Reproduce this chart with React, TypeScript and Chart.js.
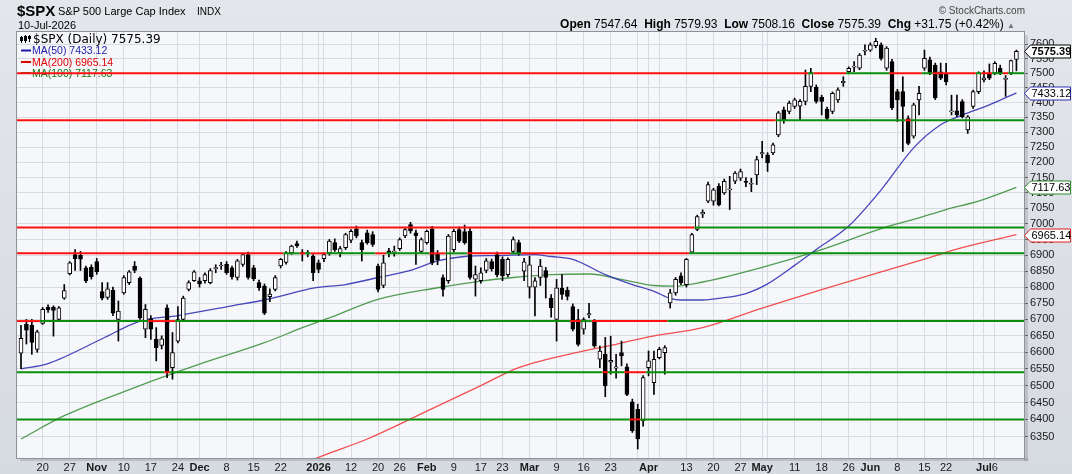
import React, { useEffect, useRef } from "react";
import { Chart, registerables } from "chart.js";

Chart.register(...registerables);

// ---- trading days (categories) ----
const octDays = [14, 15, 16, 17, 20, 21, 22, 23, 24, 27, 28, 29, 30, 31];
const novDays = [3, 4, 5, 6, 7, 10, 11, 12, 13, 14, 17, 18, 19, 20, 21, 24, 25, 26, 28];
const decDays = [1, 2, 3, 4, 5, 8, 9, 10, 11, 12, 15, 16, 17, 18, 19, 22, 23, 24, 26, 29, 30, 31];
const janDays = [2, 5, 6, 7, 8, 9, 12, 13, 14, 15, 16, 20, 21, 22, 23, 26, 27, 28, 29, 30];
const febDays = [2, 3, 4, 5, 6, 9, 10, 11, 12, 13, 17, 18, 19, 20, 23, 24, 25, 26, 27];
const marDays = [2, 3, 4, 5, 6, 9, 10, 11, 12, 13, 16, 17, 18, 19, 20, 23, 24, 25, 26, 27, 30, 31];
const aprDays = [1, 2, 6, 7, 8, 9, 10, 13, 14, 15, 16, 17, 20, 21, 22, 23, 24, 27, 28, 29, 30];
const mayDays = [1, 4, 5, 6, 7, 8, 11, 12, 13, 14, 15, 18, 19, 20, 21, 22, 26, 27, 28, 29];
const junDays = [1, 2, 3, 4, 5, 8, 9, 10, 11, 12, 15, 16, 17, 18, 22, 23, 24, 25, 26, 29, 30];
const julDays = [1, 2, 6, 7, 8, 9, 10];

const pad = (n: number) => (n < 10 ? "0" + n : "" + n);
const dates: string[] = [
  ...octDays.map((d) => `2025-10-${pad(d)}`),
  ...novDays.map((d) => `2025-11-${pad(d)}`),
  ...decDays.map((d) => `2025-12-${pad(d)}`),
  ...janDays.map((d) => `2026-01-${pad(d)}`),
  ...febDays.map((d) => `2026-02-${pad(d)}`),
  ...marDays.map((d) => `2026-03-${pad(d)}`),
  ...aprDays.map((d) => `2026-04-${pad(d)}`),
  ...mayDays.map((d) => `2026-05-${pad(d)}`),
  ...junDays.map((d) => `2026-06-${pad(d)}`),
  ...julDays.map((d) => `2026-07-${pad(d)}`),
];

// ---- OHLC ----
const opens = [
  6597, 6685, 6682, 6609, 6688, 6738, 6738, 6700, 6766, 6842, 6902, 6900, 6860, 6862, 6880, 6786, 6768, 6790, 6700, 6782,
  6814, 6866, 6828, 6670, 6702, 6639, 6621, 6736, 6554, 6634, 6700, 6793, 6820, 6820, 6820, 6814, 6858, 6866, 6871, 6860,
  6830, 6871, 6902, 6860, 6814, 6803, 6770, 6793, 6866, 6877, 6907, 6937, 6908, 6905, 6897, 6876, 6889, 6907, 6940, 6907,
  6924, 6948, 6984, 6940, 6971, 6966, 6866, 6805, 6914, 6910, 6921, 6961, 6998, 6971, 6912, 6940, 6984, 6905, 6830, 6820,
  6918, 6982, 6975, 6976, 6825, 6820, 6852, 6880, 6902, 6887, 6839, 6912, 6940, 6850, 6800, 6800, 6830, 6852, 6766, 6700,
  6797, 6790, 6740, 6700, 6670, 6714, 6695, 6579, 6594, 6570, 6552, 6599, 6556, 6452, 6430, 6396, 6554, 6509, 6584, 6599,
  6751, 6782, 6835, 6808, 6910, 6982, 7032, 7073, 7073, 7121, 7100, 7110, 7138, 7148, 7138, 7128, 7159, 7228, 7225, 7231,
  7291, 7375, 7370, 7387, 7388, 7404, 7455, 7452, 7418, 7378, 7370, 7409, 7468, 7505, 7521, 7517, 7576, 7580, 7595, 7598,
  7517, 7540, 7437, 7437, 7346, 7287, 7409, 7517, 7546, 7528, 7505, 7500, 7368, 7372, 7403, 7308, 7387, 7437, 7477, 7500,
  7500, 7517, 7479, 7500, 7547.64,
];
const highs = [
  6682, 6700, 6700, 6667, 6737, 6745, 6742, 6740, 6808, 6880, 6918, 6912, 6866, 6870, 6890, 6814, 6814, 6800, 6757, 6836,
  6852, 6880, 6832, 6746, 6712, 6675, 6650, 6745, 6660, 6740, 6772, 6820, 6852, 6830, 6845, 6858, 6870, 6878, 6880, 6866,
  6887, 6906, 6910, 6868, 6822, 6810, 6795, 6836, 6890, 6912, 6932, 6945, 6918, 6915, 6902, 6885, 6908, 6950, 6952, 6928,
  6970, 6982, 6993, 6948, 6980, 6975, 6872, 6900, 6922, 6929, 6955, 6985, 7005, 6980, 6955, 6980, 6992, 6915, 6838, 6966,
  6982, 6990, 6996, 6985, 6866, 6860, 6890, 6888, 6910, 6895, 6892, 6958, 6948, 6890, 6897, 6830, 6887, 6862, 6777, 6824,
  6839, 6800, 6748, 6731, 6705, 6750, 6700, 6619, 6645, 6649, 6594, 6634, 6565, 6460, 6445, 6530, 6604, 6604, 6615, 6620,
  6793, 6830, 6845, 6890, 6970, 7028, 7045, 7135, 7115, 7130, 7145, 7154, 7170, 7178, 7150, 7148, 7220, 7270, 7232, 7264,
  7370, 7385, 7405, 7415, 7410, 7511, 7517, 7460, 7425, 7385, 7436, 7450, 7488, 7522, 7540, 7568, 7598, 7605, 7621, 7605,
  7592, 7548, 7445, 7488, 7355, 7398, 7455, 7580, 7556, 7535, 7535, 7534, 7425, 7425, 7410, 7356, 7442, 7505, 7508, 7532,
  7540, 7528, 7492, 7545, 7579.93,
];
const lows = [
  6551, 6625, 6594, 6600, 6685, 6722, 6649, 6698, 6762, 6838, 6852, 6852, 6814, 6825, 6840, 6760, 6762, 6712, 6634, 6778,
  6808, 6845, 6700, 6644, 6639, 6574, 6610, 6524, 6519, 6628, 6695, 6788, 6818, 6800, 6812, 6810, 6845, 6855, 6840, 6825,
  6822, 6865, 6825, 6820, 6790, 6715, 6755, 6788, 6860, 6872, 6903, 6925, 6882, 6895, 6820, 6845, 6880, 6900, 6912, 6895,
  6918, 6940, 6955, 6882, 6935, 6928, 6785, 6798, 6895, 6897, 6915, 6956, 6970, 6871, 6905, 6935, 6870, 6870, 6772, 6812,
  6910, 6940, 6935, 6825, 6772, 6812, 6845, 6850, 6832, 6820, 6832, 6905, 6900, 6820, 6766, 6711, 6805, 6766, 6707, 6634,
  6762, 6760, 6665, 6619, 6655, 6705, 6615, 6554, 6467, 6534, 6522, 6559, 6470, 6362, 6314, 6380, 6529, 6474, 6580, 6534,
  6735, 6775, 6808, 6800, 6905, 6978, 7020, 7068, 7060, 7058, 7095, 7046, 7130, 7140, 7120, 7104, 7127, 7215, 7170, 7225,
  7285, 7330, 7362, 7380, 7342, 7392, 7437, 7398, 7358, 7340, 7362, 7400, 7455, 7498, 7505, 7512, 7563, 7575, 7588, 7545,
  7510, 7376, 7336, 7236, 7258, 7280, 7358, 7510, 7495, 7410, 7478, 7460, 7358, 7352, 7348, 7296, 7380, 7430, 7470, 7478,
  7495, 7495, 7421, 7495, 7508.16,
];
const closes = [
  6642, 6667, 6630, 6662, 6731, 6730, 6728, 6736, 6789, 6876, 6889, 6888, 6819, 6833, 6848, 6766, 6795, 6719, 6726, 6830,
  6848, 6852, 6705, 6731, 6670, 6614, 6641, 6538, 6599, 6700, 6766, 6814, 6848, 6810, 6839, 6852, 6861, 6869, 6845, 6833,
  6882, 6902, 6830, 6826, 6798, 6719, 6778, 6830, 6887, 6908, 6929, 6930, 6905, 6908, 6845, 6855, 6902, 6945, 6918, 6921,
  6966, 6976, 6961, 6918, 6940, 6934, 6793, 6876, 6907, 6913, 6950, 6982, 6977, 6962, 6950, 6976, 6876, 6885, 6793, 6961,
  6976, 6945, 6940, 6830, 6839, 6845, 6882, 6858, 6839, 6835, 6887, 6950, 6908, 6879, 6870, 6820, 6866, 6830, 6736, 6798,
  6777, 6771, 6670, 6624, 6700, 6718, 6619, 6604, 6499, 6576, 6556, 6589, 6474, 6367, 6343, 6524, 6574, 6579, 6609, 6614,
  6782, 6824, 6814, 6887, 6966, 7023, 7037, 7127, 7110, 7062, 7138, 7113, 7165, 7170, 7134, 7131, 7209, 7232, 7198, 7258,
  7365, 7340, 7398, 7409, 7404, 7455, 7502, 7404, 7404, 7346, 7431, 7443, 7472, 7517, 7524, 7563, 7579, 7598, 7610, 7551,
  7587, 7382, 7409, 7387, 7263, 7392, 7431, 7551, 7500, 7416, 7483, 7471, 7372, 7358, 7352, 7352, 7437, 7500, 7484, 7483,
  7534, 7500, 7482, 7543.64, 7575.39,
];

// ---- moving averages ----
const ma50Dates = [
  "2025-10-14", "2025-10-21", "2025-11-04", "2025-11-13", "2025-11-24", "2025-12-09", "2025-12-17", "2025-12-22",
  "2025-12-31", "2026-01-09", "2026-01-20", "2026-01-28", "2026-02-04", "2026-02-11", "2026-02-20", "2026-03-03",
  "2026-03-06", "2026-03-12", "2026-03-20", "2026-03-27", "2026-04-02", "2026-04-08", "2026-04-10", "2026-04-16",
  "2026-04-21", "2026-04-28", "2026-05-04", "2026-05-11", "2026-05-15", "2026-05-26", "2026-06-03", "2026-06-11",
  "2026-06-18", "2026-06-25", "2026-07-02", "2026-07-10",
];
const ma50Values = [
  6550, 6566, 6641, 6695, 6712, 6742, 6760, 6772, 6797, 6808, 6830, 6852, 6882, 6896, 6899, 6902, 6896, 6887, 6839,
  6808, 6787, 6765, 6760, 6760, 6765, 6780, 6810, 6868, 6918, 6993, 7110, 7248, 7325, 7358, 7392, 7433.12,
];
const ma100Dates = [
  "2025-10-14", "2025-10-24", "2025-11-12", "2025-12-01", "2025-12-17", "2025-12-29", "2026-01-06", "2026-01-20",
  "2026-02-04", "2026-02-17", "2026-02-25", "2026-03-06", "2026-03-17", "2026-03-25", "2026-04-02", "2026-04-09",
  "2026-04-16", "2026-05-01", "2026-05-18", "2026-06-03", "2026-06-11", "2026-06-22", "2026-06-30", "2026-07-10",
];
const ma100Values = [
  6343, 6411, 6494, 6564, 6629, 6675, 6705, 6762, 6798, 6819, 6830, 6839, 6841, 6824, 6805, 6803, 6816, 6862, 6918,
  6985, 7014, 7046, 7073, 7117.63,
];
const ma200Dates = [
  "2025-12-24", "2026-01-02", "2026-01-15", "2026-02-03", "2026-02-17", "2026-02-26", "2026-03-16", "2026-03-24",
  "2026-04-01", "2026-04-16", "2026-05-01", "2026-05-18", "2026-06-03", "2026-06-15", "2026-06-25", "2026-07-10",
];
const ma200Values = [
  6255, 6290, 6343, 6432, 6500, 6554, 6604, 6624, 6647, 6675, 6735, 6792, 6848, 6888, 6924, 6965.14,
];

// ---- horizontal support / resistance levels ----
const levels = [7500, 7340, 6988, 6906, 6695, 6540, 6400];

// ---- axis ticks ----
const yTickValues = [
  6350, 6400, 6450, 6500, 6550, 6600, 6650, 6700, 6750, 6800, 6850, 6900, 6950, 7000, 7050, 7100, 7150, 7200, 7250,
  7300, 7350, 7400, 7450, 7500, 7550, 7600,
];
const xLabelDates = [
  "2025-10-20", "2025-10-27", "2025-11-03", "2025-11-10", "2025-11-17", "2025-11-24", "2025-12-01", "2025-12-08",
  "2025-12-15", "2025-12-22", "2026-01-02", "2026-01-12", "2026-01-20", "2026-01-26", "2026-02-02", "2026-02-09",
  "2026-02-17", "2026-02-23", "2026-03-02", "2026-03-09", "2026-03-16", "2026-03-23", "2026-04-01", "2026-04-13",
  "2026-04-20", "2026-04-27", "2026-05-01", "2026-05-11", "2026-05-18", "2026-05-26", "2026-06-01", "2026-06-08",
  "2026-06-15", "2026-06-22", "2026-07-01", "2026-07-06",
];
const xLabels = [
  "20", "27", "Nov", "10", "17", "24", "Dec", "8", "15", "22", "2026", "12", "20", "26", "Feb", "9", "17", "23", "Mar",
  "9", "16", "23", "Apr", "13", "20", "27", "May", "11", "18", "26", "Jun", "8", "15", "22", "Jul", "6",
];
const xBoldLabels = ["Nov", "Dec", "2026", "Feb", "Mar", "Apr", "May", "Jun", "Jul"];
const xGridOnlyDates = ["2025-12-29", "2026-01-05", "2026-03-30", "2026-04-06", "2026-05-04", "2026-06-29"];

const RED = "#ff1010";
const GREEN = "#0a8f0a";
const FONT = "'Liberation Sans', Arial, sans-serif";

export default function App() {
  const ref = useRef<HTMLCanvasElement>(null);

  useEffect(() => {
    const canvas = ref.current;
    if (!canvas) return;
    const n = dates.length;
    const idx = (d: string) => dates.indexOf(d);
    const last = n - 1;

    const wickData = dates.map((_, i) => ({ x: i, y: [lows[i], highs[i]] }));
    const bodyData = dates.map((_, i) => ({
      x: i,
      y: [Math.min(opens[i], closes[i]), Math.max(opens[i], closes[i])],
    }));
    const bodyFill = dates.map((_, i) => (closes[i] >= opens[i] ? "#ffffff" : "#000000"));
    const maPts = (ds: string[], vs: number[]) => ds.map((d, k) => ({ x: idx(d), y: vs[k] }));

    const levelXs: number[] = [-1];
    for (let i = 0; i < n - 1; i++) levelXs.push(i + 0.5);
    levelXs.push(n + 1);

    const labelMap = new Map<number, string>();
    xLabelDates.forEach((d, k) => labelMap.set(idx(d), xLabels[k]));
    const gridIdx = Array.from(new Set([...xLabelDates, ...xGridOnlyDates].map(idx))).sort((a, b) => a - b);

    const levelSets = levels.map((L) => ({
      type: "line" as const,
      data: levelXs.map((x) => ({ x, y: L })),
      borderWidth: 2,
      pointRadius: 0,
      borderColor: RED,
      segment: {
        borderColor: (c: any) => (closes[Math.min(c.p0DataIndex, last)] >= L ? GREEN : RED),
      },
      order: 1,
    }));

    const bgPlugin = {
      id: "bgPlugin",
      beforeDraw(chart: any) {
        const { ctx, chartArea: a } = chart;
        ctx.save();
        const g = ctx.createLinearGradient(0, 0, 0, chart.height);
        g.addColorStop(0, "#e3e6eb");
        g.addColorStop(1, "#d6dae1");
        ctx.fillStyle = g;
        ctx.fillRect(0, 0, chart.width, chart.height);
        ctx.fillStyle = "rgba(0,0,0,0.12)";
        ctx.fillRect(a.right, a.top + 3, 4, a.bottom - a.top);
        ctx.fillRect(a.left + 3, a.bottom, a.right - a.left + 1, 3);
        ctx.fillStyle = "#f6f7fb";
        ctx.fillRect(a.left, a.top, a.right - a.left, a.bottom - a.top);
        ctx.restore();
      },
      beforeDatasetsDraw(chart: any) {
        const { ctx } = chart;
        ctx.save();
        // candle icon
        ctx.fillStyle = "#000";
        ctx.fillRect(21, 36, 1, 7);
        ctx.fillRect(20, 37, 3, 4);
        ctx.fillRect(25, 35, 1, 8);
        ctx.strokeStyle = "#000";
        ctx.lineWidth = 1;
        ctx.strokeRect(24.5, 36.5, 2, 4);
        ctx.fillRect(29, 35, 1, 7);
        ctx.fillRect(28, 36, 3, 3);
        ctx.textBaseline = "alphabetic";
        ctx.font = "12px 'DejaVu Sans', sans-serif";
        ctx.fillStyle = "#000";
        ctx.fillText("$SPX (Daily) 7575.39", 33, 43);
        ctx.font = "10.5px " + FONT;
        const rows = [
          { t: "MA(50) 7433.12", c: "#1c1ca8", y: 54, dy: 50.5 },
          { t: "MA(200) 6965.14", c: "#e00000", y: 65.5, dy: 62 },
          { t: "MA(100) 7117.63", c: "#117a11", y: 76.5, dy: 73 },
        ];
        rows.forEach((r) => {
          ctx.fillStyle = r.c;
          ctx.fillRect(21, r.dy - 1, 10, 2);
          ctx.fillText(r.t, 32, r.y);
        });
        ctx.restore();
      },
      afterDraw(chart: any) {
        const { ctx, chartArea: a } = chart;
        const ys = chart.scales.y;
        ctx.save();
        ctx.strokeStyle = "#8d929b";
        ctx.lineWidth = 1;
        ctx.strokeRect(a.left - 0.5, a.top - 0.5, a.right - a.left + 1, a.bottom - a.top + 1);
        const tags = [
          { v: ma200Values[ma200Values.length - 1], c: "#e02020", b: false },
          { v: ma100Values[ma100Values.length - 1], c: "#2a8a2a", b: false },
          { v: ma50Values[ma50Values.length - 1], c: "#3030b0", b: false },
          { v: closes[last], c: "#000000", b: true },
        ];
        tags.forEach((t) => {
          const y = Math.round(ys.getPixelForValue(t.v)) + 0.5;
          const x0 = a.right + 0.5;
          ctx.beginPath();
          ctx.moveTo(x0, y);
          ctx.lineTo(x0 + 6, y - 6.5);
          ctx.lineTo(1070.5, y - 6.5);
          ctx.lineTo(1070.5, y + 6.5);
          ctx.lineTo(x0 + 6, y + 6.5);
          ctx.closePath();
          ctx.fillStyle = "#ffffff";
          ctx.fill();
          ctx.strokeStyle = t.c;
          ctx.lineWidth = 1;
          ctx.stroke();
          ctx.fillStyle = "#000";
          ctx.font = (t.b ? "bold " : "") + "11px " + FONT;
          ctx.textBaseline = "middle";
          ctx.textAlign = "left";
          ctx.fillText(t.v.toFixed(2), x0 + 7, y + 0.5);
        });
        ctx.restore();
      },
    };

    const chart = new Chart(canvas, {
      type: "bar",
      data: {
        datasets: [
          {
            type: "line",
            data: maPts(ma50Dates, ma50Values),
            borderColor: "rgba(40,40,175,0.85)",
            borderWidth: 1.3,
            pointRadius: 0,
            cubicInterpolationMode: "monotone",
            order: 5,
          } as any,
          {
            type: "line",
            data: maPts(ma100Dates, ma100Values),
            borderColor: "rgba(40,135,40,0.8)",
            borderWidth: 1.3,
            pointRadius: 0,
            cubicInterpolationMode: "monotone",
            order: 5,
          } as any,
          {
            type: "line",
            data: maPts(ma200Dates, ma200Values),
            borderColor: "rgba(240,50,50,0.85)",
            borderWidth: 1.3,
            pointRadius: 0,
            cubicInterpolationMode: "monotone",
            order: 5,
          } as any,
          {
            type: "bar",
            data: wickData,
            backgroundColor: "#000",
            barThickness: 1,
            grouped: false,
            order: 4,
          } as any,
          {
            type: "bar",
            data: bodyData,
            backgroundColor: bodyFill,
            borderColor: "#000",
            borderWidth: 1,
            borderSkipped: false,
            barThickness: 4,
            minBarLength: 1,
            grouped: false,
            order: 3,
          } as any,
          ...(levelSets as any[]),
        ],
      },
      options: {
        responsive: false,
        animation: false,
        devicePixelRatio: 1,
        events: [],
        layout: { padding: { left: 17, top: 32, right: 0, bottom: 0 } },
        plugins: { legend: { display: false }, tooltip: { enabled: false } },
        scales: {
          x: {
            type: "linear",
            min: -0.74,
            max: 185.4,
            offset: false,
            position: "bottom",
            afterFit: (s: any) => {
              s.height = 16;
            },
            afterBuildTicks: (s: any) => {
              s.ticks = gridIdx.map((v) => ({ value: v }));
            },
            grid: { color: "#d8dbe1", drawTicks: false, offset: false },
            border: { display: false },
            ticks: {
              autoSkip: false,
              maxRotation: 0,
              minRotation: 0,
              padding: 3,
              color: "#1a1a1a",
              callback: (v: any) => labelMap.get(Number(v)) ?? "",
              font: (c: any) => {
                const lab = labelMap.get(c.tick ? c.tick.value : -1) ?? "";
                return { family: FONT, size: 11, weight: xBoldLabels.includes(lab) ? "bold" : "normal" };
              },
            },
          } as any,
          y: {
            type: "logarithmic",
            position: "right",
            min: 6288,
            max: 7643,
            afterFit: (s: any) => {
              s.width = 48;
            },
            afterBuildTicks: (s: any) => {
              s.ticks = yTickValues.map((v) => ({ value: v }));
            },
            grid: { color: "#d8dbe1", tickLength: 4, tickColor: "#666" },
            border: { display: false },
            ticks: {
              padding: 2,
              color: "#1a1a1a",
              font: { family: FONT, size: 11 },
              callback: (v: any) => String(v),
            },
          } as any,
        },
      },
      plugins: [bgPlugin],
    });

    return () => chart.destroy();
  }, []);

  const base: React.CSSProperties = { position: "absolute", lineHeight: 1, whiteSpace: "nowrap", fontFamily: FONT, color: "#000" };

  return (
    <div style={{ position: "fixed", left: 0, top: 0, width: 1072, height: 474, overflow: "hidden" }}>
      <canvas ref={ref} width={1072} height={474} style={{ position: "absolute", left: 0, top: 0, width: 1072, height: 474 }} />
      <div style={{ ...base, left: 17, top: 3, fontSize: 15, fontWeight: "bold" }}>$SPX</div>
      <div style={{ ...base, left: 58, top: 6, fontSize: 11 }}>S&amp;P 500 Large Cap Index</div>
      <div style={{ ...base, left: 197, top: 6.5, fontSize: 10 }}>INDX</div>
      <div style={{ ...base, left: 18, top: 20, fontSize: 11 }}>10-Jul-2026</div>
      <div style={{ ...base, right: 47, top: 5.5, fontSize: 10, color: "#444" }}>© StockCharts.com</div>
      <div style={{ ...base, right: 57, top: 18, fontSize: 12 }}>
        <b>Open</b> 7547.64&nbsp; <b>High</b> 7579.93&nbsp; <b>Low</b> 7508.16&nbsp; <b>Close</b> 7575.39&nbsp; <b>Chg</b> +31.75
        (+0.42%) <span style={{ fontSize: 8, color: "#777" }}>▲</span>
      </div>
    </div>
  );
}
